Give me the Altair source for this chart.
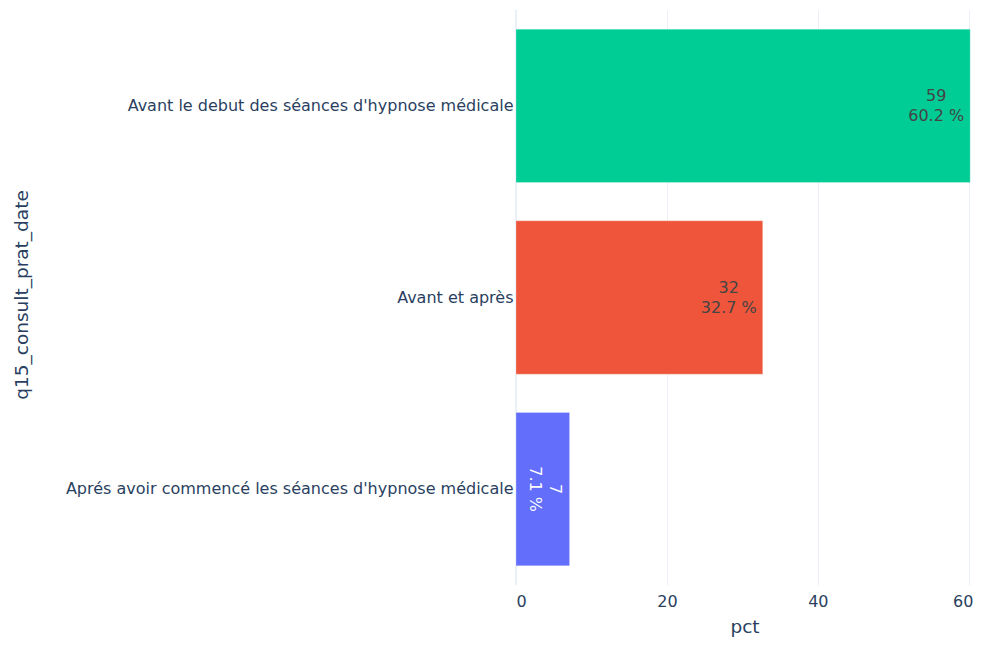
import altair as alt
import pandas as pd

categories = [
    "Avant le debut des séances d'hypnose médicale",
    "Avant et après",
    "Aprés avoir commencé les séances d'hypnose médicale",
]
counts = [59, 32, 7]
pcts = [60.2, 32.7, 7.1]
colors = ["#00cc96", "#EF553B", "#636efa"]
text_colors = ["#444444", "#444444", "#ffffff"]
x_ticks = [0, 20, 40, 60]

df = pd.DataFrame({
    "cat": categories,
    "n": counts,
    "pct": pcts,
    "color": colors,
    "tcolor": text_colors,
})
df["label"] = df["n"].astype(str) + "\n" + df["pct"].map(lambda v: f"{v:.1f}") + " %"

FONT = "DejaVu Sans"
AX = "#2a3f5f"
XMAX = 60.57
W, H = 457, 575

y_enc = alt.Y(
    "cat:N",
    sort=categories,
    title="q15_consult_prat_date",
    scale=alt.Scale(paddingInner=0.2, paddingOuter=0.1),
    axis=alt.Axis(
        labelFont=FONT, labelFontSize=16, labelColor=AX, labelPadding=3,
        labelLimit=600, ticks=False, domain=False, grid=False,
        titleFont=FONT, titleFontSize=18.5, titleColor=AX, titleFontWeight="normal",
        titleX=-495, titleY=284.5, titleAngle=-90, titleAlign="center",
        titleBaseline="middle",
    ),
)
x_enc = alt.X(
    "pct:Q",
    title="pct",
    scale=alt.Scale(domain=[0, XMAX], nice=False, zero=True),
    axis=alt.Axis(
        values=x_ticks, labelFont=FONT, labelFontSize=16, labelColor=AX,
        labelPadding=8, ticks=False, domain=False, grid=True,
        gridColor="#EBF0F8", gridWidth=1,
        labelOffset={"condition": {"test": "datum.value == 60", "value": -6}, "value": 0},
        titleFont=FONT, titleFontSize=18.5, titleColor=AX, titleFontWeight="normal",
        titlePadding=8,
    ),
)

base = alt.Chart(df)

bars = base.mark_bar(stroke="white", strokeWidth=0.5, strokeOpacity=0.5).encode(
    y=y_enc,
    x=x_enc,
    color=alt.Color("color:N", scale=None),
)

zero = alt.Chart(pd.DataFrame({"z": [0]})).mark_rule(color="#EBF0F8", strokeWidth=2).encode(
    x=alt.X("z:Q", scale=alt.Scale(domain=[0, XMAX], nice=False))
)

txt_h = base.transform_filter(alt.datum.pct > 20).mark_text(
    font=FONT, fontSize=16, align="center", baseline="middle",
    lineBreak="\n", lineHeight=20, dx=-34, dy=-10,
).encode(
    y=alt.Y("cat:N", sort=categories),
    x=alt.X("pct:Q"),
    text="label:N",
    color=alt.Color("tcolor:N", scale=None),
)

txt_v = base.transform_filter(alt.datum.pct <= 20).mark_text(
    font=FONT, fontSize=16, align="center", baseline="middle",
    lineBreak="\n", lineHeight=20, angle=90, dy=15,
).encode(
    y=alt.Y("cat:N", sort=categories),
    x=alt.X("pct:Q"),
    text="label:N",
    color=alt.Color("tcolor:N", scale=None),
)

chart = alt.layer(zero, bars, txt_h, txt_v).properties(
    width=W,
    height=H,
    autosize=alt.AutoSizeParams(type="none"),
    padding={"left": 508, "top": 2, "right": 0, "bottom": 55},
    background="white",
).configure_view(stroke=None)

chart.save("out.html", embed_options={"renderer": "svg", "actions": False})
